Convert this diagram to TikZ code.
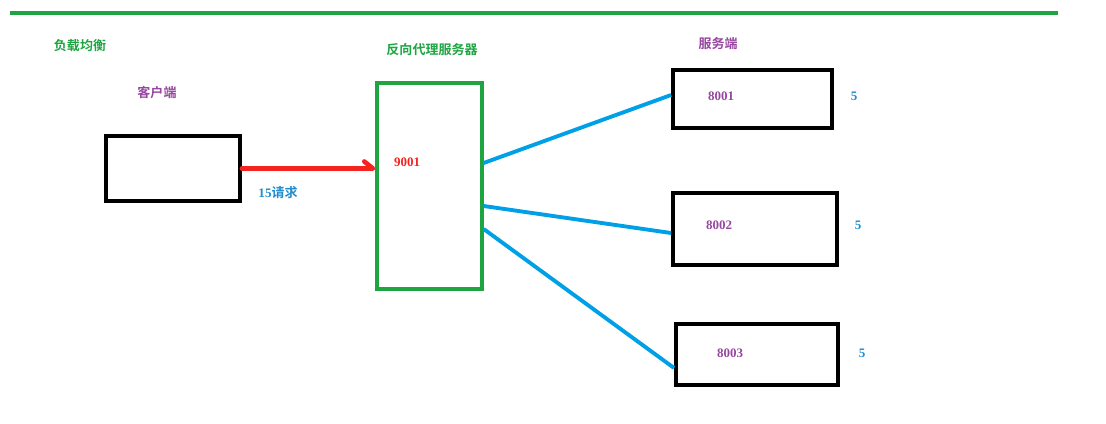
\documentclass[tikz,border=0pt]{standalone}
\usepackage{fontspec}
\setmainfont{Liberation Serif}
\newfontfamily\cjk{Noto Sans CJK SC}[BoldFont={Noto Sans CJK SC Bold}]
\usetikzlibrary{arrows.meta}
\definecolor{lbgreen}{RGB}{30,165,65}
\definecolor{lbpurple}{RGB}{150,70,160}
\definecolor{lbblue}{RGB}{0,160,230}
\definecolor{lbtext}{RGB}{30,140,205}
\definecolor{lbred}{RGB}{245,35,30}
\begin{document}
\begin{tikzpicture}[
  box/.style={draw, line width=2.2pt, inner sep=0pt},
  title/.style={font=\cjk\bfseries\fontsize{7.4}{8}\selectfont, inner sep=0pt},
  port/.style={font=\bfseries\fontsize{7.4}{8}\selectfont, inner sep=0pt},
  link/.style={lbblue, line width=2.2pt}]
\useasboundingbox (0,0) rectangle (22.12,-8.46);
\draw[lbgreen, line width=1.8pt] (0.2,-0.26) -- (21.16,-0.26);
% titles
\node[title, lbgreen]  (lb)  at (1.6,-0.92)  {负载均衡};
\node[title, lbpurple] (ct)  at (3.14,-1.86) {客户端};
\node[title, lbgreen]  (pt)  at (8.64,-1.0)  {反向代理服务器};
\node[title, lbpurple] (st)  at (14.36,-0.88) {服务端};
% boxes
\node[box, minimum width=2.68cm, minimum height=1.3cm] (client) at (3.46,-3.37) {};
\node[box, draw=lbgreen, line width=1.9pt, minimum width=2.1cm, minimum height=4.12cm] (proxy) at (8.59,-3.72) {};
\node[box, minimum width=3.18cm, minimum height=1.16cm] (s1) at (15.05,-1.98) {};
\node[box, minimum width=3.28cm, minimum height=1.44cm] (s2) at (15.1,-4.58) {};
\node[box, minimum width=3.24cm, minimum height=1.22cm] (s3) at (15.14,-7.09) {};
% labels
\node[port, lbred]    (p9001) at (8.14,-3.24)  {9001};
\node[port, lbpurple] (p8001) at (14.42,-1.92) {8001};
\node[port, lbpurple] (p8002) at (14.38,-4.5)  {8002};
\node[port, lbpurple] (p8003) at (14.6,-7.06)  {8003};
\node[port, lbtext] (w1) at (17.08,-1.92) {5};
\node[port, lbtext] (w2) at (17.16,-4.5)  {5};
\node[port, lbtext] (w3) at (17.24,-7.06) {5};
\node[port, lbtext] (req) at (5.56,-3.86) {15{\cjk\bfseries 请求}};
% connectors
\draw[lbred, line width=2.6pt, line cap=round, -{Straight Barb[harpoon, length=5pt, width=8pt, round]}] (client.east) -- (client.east -| proxy.west);
\draw[link] ([yshift=0.46cm]proxy.east) -- ([yshift=0.08cm]s1.west);
\draw[link] ([yshift=-0.4cm]proxy.east) -- ([yshift=-0.08cm]s2.west);
\draw[link] ([yshift=-0.86cm]proxy.east) -- ([yshift=-0.27cm]s3.west);
\end{tikzpicture}
\end{document}
